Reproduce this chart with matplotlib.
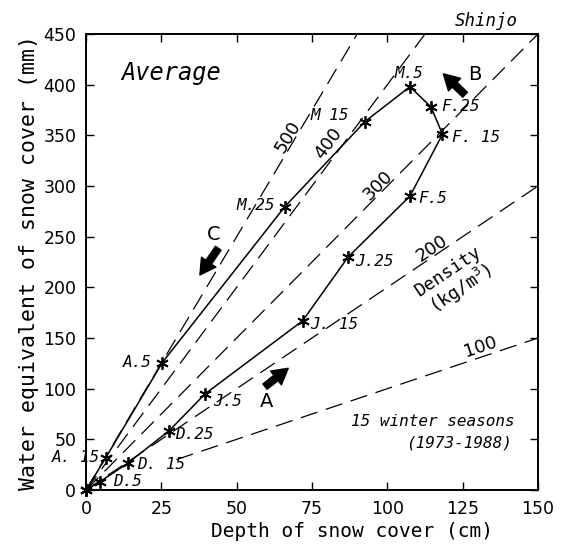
import numpy as np
import matplotlib
matplotlib.use('Agg')
import matplotlib.pyplot as plt

# seasonal loop of average snow cover, Shinjo
labels = ['', 'D.5', 'D. 15', 'D.25', 'J.5', 'J. 15', 'J.25', 'F.5', 'F. 15',
          'F.25', 'M.5', 'M 15', 'M.25', 'A.5', 'A. 15']
depth = [0, 4.6, 13.8, 27.6, 39.5, 71.9, 87.0, 107.5, 118.3, 114.5, 107.5, 92.6, 66.0, 25.3, 6.6]
swe = [0, 8.2, 26.3, 58.5, 94.8, 167, 230, 290, 351, 378, 398, 363.6, 279.7, 125.7, 32]
label_x = [None, 9.1, 16.8, 29.5, 42.3, 74.3, 89.3, 110.3, 121.3, 118, 107, 74.6, 62.7, 21.8, 4.6]
label_y = [None, 8.2, 24.7, 54.3, 87.2, 162.9, 225.4, 288, 348.2, 378.4, 411, 370, 280.4, 125.7, 32.3]
label_ha = [None, 'left', 'left', 'left', 'left', 'left', 'left', 'left', 'left',
            'left', 'center', 'left', 'right', 'right', 'right']

densities = [100, 200, 300, 400, 500]
dens_start = [30, 0, 0, 0, 0]
dens_lab_x = [130.8, 114.7, 97, 80.4, 67.1]
dens_lab_y = [141.5, 238.6, 301, 342.2, 348.8]

arrow_names = ['A', 'B', 'C']
arrow_tail = [(59.4, 102), (125.8, 390), (43.9, 238.6)]
arrow_head = [(67.1, 120.1), (118.6, 410.7), (37.8, 212.2)]
arrow_lab = [(60, 87), (129.1, 409.7), (42.3, 251.7)]

plt.rcParams['font.family'] = ['DejaVu Sans']
MONO = 'DejaVu Sans Mono'

fig = plt.figure(figsize=(5.66, 5.46), dpi=100)
ax = fig.add_axes([86/566, 1-490/546, 452/566, 456/546])
ax.set_xlim(0, 150)
ax.set_ylim(0, 450)

def px_angle(k):
    w = ax.get_position().width * fig.get_figwidth()
    h = ax.get_position().height * fig.get_figheight()
    return np.degrees(np.arctan(k * (h / 450) / (w / 150)))

for d, x0, lx, ly in zip(densities, dens_start, dens_lab_x, dens_lab_y):
    k = d / 100.0
    x1 = min(150, 450 / k)
    ax.plot([x0, x1], [k * x0, k * x1], color='black', lw=0.9,
            dashes=(14, 7))
    ax.text(lx, ly, str(d), rotation=px_angle(k), rotation_mode='anchor',
            ha='center', va='center', fontsize=13)

ax.text(122.7, 206, 'Density\n(kg/m$^3$)', rotation=px_angle(2),
        rotation_mode='anchor', ha='center', va='center',
        multialignment='center', fontsize=13, family=MONO, linespacing=1.05)

xs = depth + [depth[0]]
ys = swe + [swe[0]]
ax.plot(xs, ys, color='black', lw=1.1, marker=(6, 2, 0), markersize=9,
        markeredgewidth=1.3, clip_on=False)

for lab, lx, ly, ha in zip(labels, label_x, label_y, label_ha):
    if lab:
        ax.text(lx, ly, lab, style='italic', family=MONO, ha=ha,
                va='center', fontsize=11.5)

for name, t, h, p in zip(arrow_names, arrow_tail, arrow_head, arrow_lab):
    ax.annotate('', xy=h, xytext=t,
                arrowprops=dict(arrowstyle='simple,head_width=0.9,head_length=0.8,tail_width=0.35',
                                color='black', shrinkA=0, shrinkB=0, mutation_scale=14))
    ax.text(p[0], p[1], name, ha='center', va='center', fontsize=14)

ax.text(11.8, 412, 'Average', style='italic', family=MONO, ha='left',
        va='center', fontsize=17)
ax.text(132.8, 463, 'Shinjo', style='italic', family=MONO, ha='center',
        va='center', fontsize=12.5, clip_on=False)
ax.text(142.4, 67.4, '15 winter seasons', style='italic', family=MONO,
        ha='right', va='center', fontsize=11.5)
ax.text(141.3, 46, '(1973-1988)', style='italic', family=MONO, ha='right',
        va='center', fontsize=11.5)

ax.set_xticks(np.arange(0, 151, 25))
ax.set_yticks(np.arange(0, 451, 50))
ax.tick_params(direction='in', top=True, right=True, length=6, width=1,
               labelsize=12.5, pad=7)
for s in ax.spines.values():
    s.set_linewidth(1.4)

ax.set_xlabel('Depth of snow cover (cm)', fontsize=14, family=MONO)
ax.xaxis.set_label_coords((352 - 86) / 452, -0.071)
ax.set_ylabel('Water equivalent of snow cover (mm)', fontsize=15.5,
              family=MONO, labelpad=3)

fig.savefig('out.png', dpi=100)
